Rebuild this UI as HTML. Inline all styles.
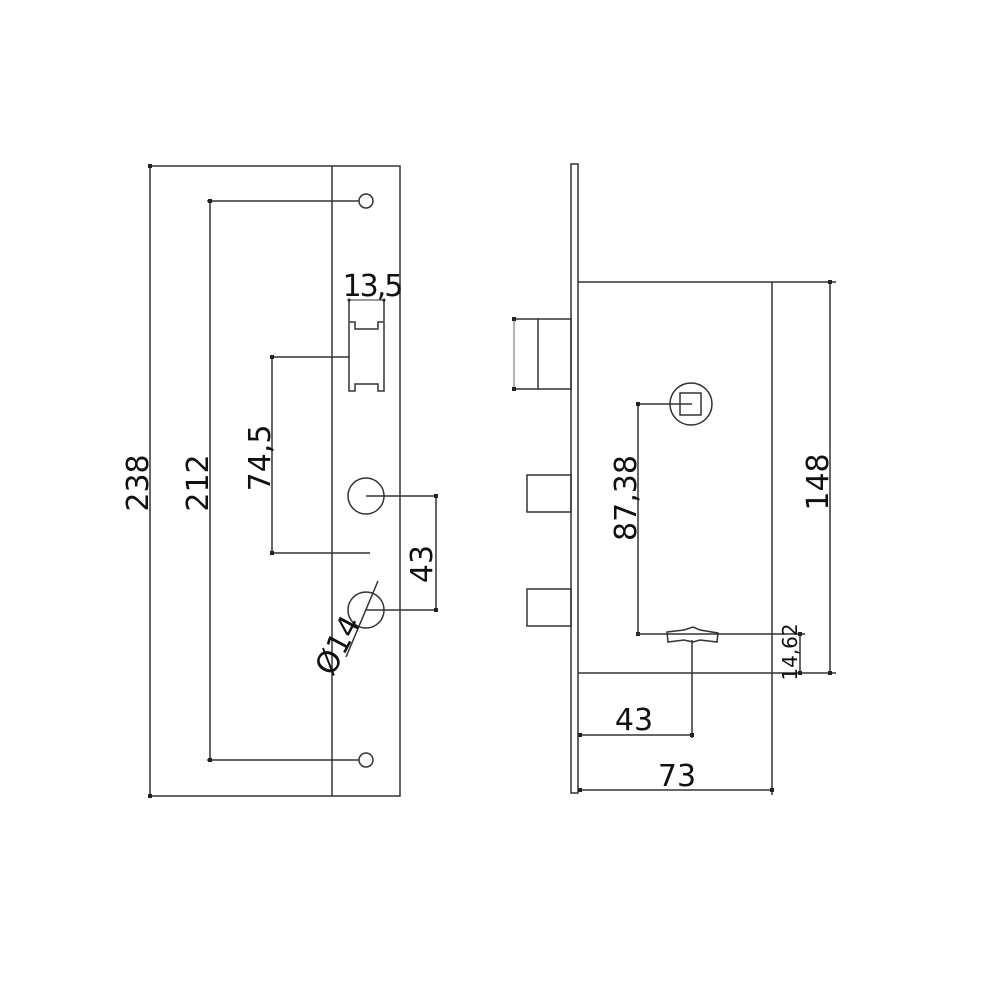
<!DOCTYPE html>
<html><head><style>html,body{margin:0;padding:0;background:#fff}svg{display:block}</style></head>
<body>
<svg width="1000" height="1000" viewBox="0 0 1000 1000" xmlns="http://www.w3.org/2000/svg">
<defs>
<marker id="a" viewBox="0 0 6 6" refX="3" refY="3" markerWidth="4" markerHeight="4" orient="auto"><rect x="1" y="1" width="4" height="4" fill="#222"/></marker>
</defs>
<g fill="none" stroke="#333" stroke-width="1.5">
<!-- left plate -->
<rect x="332" y="166" width="68" height="630"/>
<line x1="148" y1="166" x2="332" y2="166"/>
<line x1="148" y1="796" x2="332" y2="796"/>
<line x1="150" y1="166" x2="150" y2="796" marker-start="url(#a)" marker-end="url(#a)"/>
<circle cx="366" cy="201" r="7"/>
<circle cx="366" cy="760" r="7"/>
<line x1="207" y1="201" x2="359" y2="201"/>
<line x1="207" y1="760" x2="359" y2="760"/>
<line x1="210" y1="201" x2="210" y2="760" marker-start="url(#a)" marker-end="url(#a)"/>
<path d="M349 322 H355 V329 H378 V322 H384 V391 H378 V384 H355 V391 H349 Z"/>
<line x1="349" y1="299" x2="349" y2="321"/>
<line x1="384" y1="299" x2="384" y2="321"/>
<line x1="349" y1="300" x2="384" y2="300" stroke-width="1" marker-start="url(#a)" marker-end="url(#a)"/>
<line x1="270" y1="357" x2="349" y2="357"/>
<line x1="270" y1="553" x2="370" y2="553"/>
<line x1="272" y1="357" x2="272" y2="553" marker-start="url(#a)" marker-end="url(#a)"/>
<circle cx="366" cy="496" r="18"/>
<circle cx="366" cy="610" r="18"/>
<line x1="366" y1="496" x2="438" y2="496"/>
<line x1="366" y1="610" x2="438" y2="610"/>
<line x1="436" y1="496" x2="436" y2="610" marker-start="url(#a)" marker-end="url(#a)"/>
<line x1="378" y1="581" x2="346" y2="657"/>
<!-- right -->
<rect x="571" y="164" width="7" height="629"/>
<line x1="578" y1="282" x2="836" y2="282"/>
<line x1="578" y1="673" x2="836" y2="673"/>
<line x1="772" y1="282" x2="772" y2="795"/>
<line x1="830" y1="282" x2="830" y2="673" marker-start="url(#a)" marker-end="url(#a)"/>
<rect x="538" y="319" width="33" height="70"/>
<line x1="512" y1="319" x2="538" y2="319"/>
<line x1="512" y1="389" x2="538" y2="389"/>
<line x1="514" y1="319" x2="514" y2="389" stroke="#999" marker-start="url(#a)" marker-end="url(#a)"/>
<rect x="527" y="475" width="44" height="37"/>
<rect x="527" y="589" width="44" height="37"/>
<circle cx="691" cy="404" r="21"/>
<rect x="680" y="393" width="21" height="22"/>
<line x1="636" y1="404" x2="692" y2="404"/>
<line x1="638" y1="404" x2="638" y2="634" marker-start="url(#a)" marker-end="url(#a)"/>
<line x1="636" y1="634" x2="805" y2="634"/>
<path d="M667 632 L684 630 L693 627 L700 630 L718 633 L717 642 L700 640 L693 642 L684 640 L668 642 Z"/>
<line x1="692" y1="640" x2="692" y2="738"/>
<line x1="580" y1="735" x2="692" y2="735" marker-start="url(#a)" marker-end="url(#a)"/>
<line x1="580" y1="790" x2="772" y2="790" marker-start="url(#a)" marker-end="url(#a)"/>
<line x1="800" y1="634" x2="800" y2="673" marker-start="url(#a)" marker-end="url(#a)"/>
</g>
<g font-family="'DejaVu Sans','Liberation Sans',sans-serif" font-size="30" fill="#111" text-anchor="middle">
<text transform="translate(148,483) rotate(-90)">238</text>
<text transform="translate(208,483) rotate(-90)">212</text>
<text transform="translate(270,458) rotate(-90)">74,5</text>
<text x="372" y="296" letter-spacing="-2">13,5</text>
<text transform="translate(432,564) rotate(-90)">43</text>
<text transform="translate(347,650) rotate(-62)">Ø14</text>
<text transform="translate(828,482) rotate(-90)">148</text>
<text transform="translate(636,498) rotate(-90)">87,38</text>
<text x="634" y="730">43</text>
<text x="677" y="786">73</text>
<text transform="translate(797,652) rotate(-90)" font-size="20">14,62</text>
</g>
</svg>
</body></html>
